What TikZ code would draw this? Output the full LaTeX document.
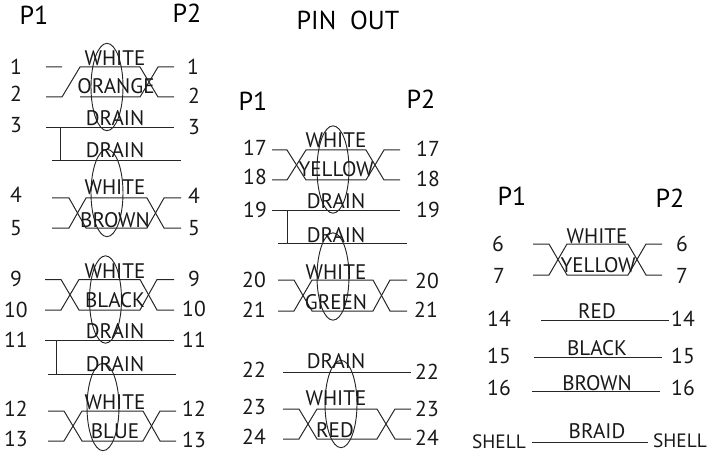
\documentclass[tikz,border=0pt]{standalone}
\usepackage{fontspec}
\usetikzlibrary{shapes.geometric}
\setmainfont{PT Sans}
\tikzset{
  wire/.style={draw=black!85,line width=0.75pt,line join=miter},
  twist/.style={draw=black!85,line width=0.7pt,shape=ellipse,minimum width=24pt,minimum height=65.5pt,inner sep=0pt},
  lbl/.style={inner sep=0pt,anchor=base,text=black!90,font=\fontsize{15.8}{16}\selectfont},
  num/.style={lbl,font=\fontsize{16.2}{17}\selectfont},
  shl/.style={lbl,font=\fontsize{14.5}{15}\selectfont},
  hdr/.style={inner sep=0pt,anchor=base,text=black,font=\fontsize{19.5}{20}\selectfont},
}
% id, x1..x6, ytop, ybottom
\newcommand{\xpair}[9]{%
  \coordinate (#1a1) at (#2,#8); \coordinate (#1a2) at (#3,#8);
  \coordinate (#1a3) at (#4,#9); \coordinate (#1a4) at (#5,#9);
  \coordinate (#1a5) at (#6,#8); \coordinate (#1a6) at (#7,#8);
  \coordinate (#1b1) at (#2,#9); \coordinate (#1b2) at (#3,#9);
  \coordinate (#1b3) at (#4,#8); \coordinate (#1b4) at (#5,#8);
  \coordinate (#1b5) at (#6,#9); \coordinate (#1b6) at (#7,#9);
  \draw[wire] (#1b1)--(#1b2)--(#1b3)--(#1b4)--(#1b5)--(#1b6);
}
\newcommand{\xfull}[2]{\draw[wire] (#1a1)--(#1a2)--(#1a3)--(#1a4)--(#1a5)--(#1a6);}
% id, x1, x2, y
\newcommand{\straight}[4]{%
  \coordinate (#1l) at (#2,#4); \coordinate (#1r) at (#3,#4);
  \draw[wire] (#1l)--(#1r);}
\begin{document}
\begin{tikzpicture}[x=0.75pt,y=-0.75pt]
\useasboundingbox (0,0) rectangle (709,452);
% wires
\xpair{p}{46}{62}{80}{140}{158}{174}{67}{97}
\draw[wire] (pa1)--(pa2) (pa3)--(pa4)--(pa5)--(pa6);
\straight{d}{46}{174}{128}\straight{e}{52}{181}{161}
\coordinate (dv) at (60.5,128); \coordinate (ev) at (60.5,161); \draw[wire] (dv)--(ev);
\xpair{q}{52}{69}{86}{147}{164}{181}{198}{228}\xfull{q}{}
\xpair{r}{45}{61}{79}{140}{157}{174}{279.5}{310}\xfull{r}{}
\straight{f}{45}{174}{340}\straight{g}{48}{176}{374}
\coordinate (fv) at (56,340); \coordinate (gv) at (56,374); \draw[wire] (fv)--(gv);
\xpair{s}{48}{64}{82}{143}{160}{176}{411}{441}\xfull{s}{}
\xpair{t}{272}{287}{306}{366}{384}{400}{150}{180}\xfull{t}{}
\straight{h}{272}{400}{210}\straight{i}{278}{407}{243}
\coordinate (hv) at (287,210); \coordinate (iv) at (287,243); \draw[wire] (hv)--(iv);
\xpair{u}{278}{294}{312}{373}{390}{407}{280}{311}\xfull{u}{}
\straight{j}{283}{411}{372}
\xpair{v}{283}{299}{317}{377}{395}{411}{409}{439}\xfull{v}{}
\xpair{w}{533}{549}{567}{628}{646}{662}{244}{275}\xfull{w}{}
\straight{k}{541}{669}{320}\straight{l}{534}{662}{357}\straight{m}{532}{660}{391}\straight{n}{532}{648}{442}
% twists
\foreach \n/\cx/\cy in {a/107/87,b/107/193,c/105.5/299.5,e/103/407,f/333/169.5,g/333/276.5,h/341/404}
  \node[twist] (tw\n) at (\cx,\cy) {};
% wire labels
\foreach \x/\y/\t [count=\i] in {
115/66/WHITE,116/94/ORANGE,115/126/DRAIN,115/158/DRAIN,115/195/WHITE,115/227/BROWN,
115/278/WHITE,115/307/BLACK,115/338/DRAIN,115/371/DRAIN,115/409/WHITE,115/438/BLUE,
336/148/WHITE,336/177/YELLOW,336/209/DRAIN,336/242/DRAIN,336/279/WHITE,336/309/GREEN,
336/368/DRAIN,336/405/WHITE,335/437/RED,
597/243/WHITE,598/272/YELLOW,597/318/RED,597/355/BLACK,597/390/BROWN,597/438/BRAID}
  \node[lbl] (w\i) at (\x,\y) {\t};
% pin numbers
\foreach \x/\y/\t [count=\i] in {
16/75/1,16/102/2,16/133/3,16/203/4,16/235/5,16/286/9,16/317/10,16/347/11,16/416/12,16/446/13,
193/75/1,194/104/2,194/135/3,194/204/4,194/235/5,194/286/9,194/316/10,194/347/11,194/416/12,194/447/13,
255/156/17,255/185/18,255/217/19,254/287/20,254/317/21,254/377/22,254/414/23,254/444/24,
428/157/17,428/187/18,428/217/19,427/288/20,426/317/21,427/379/22,427/416/23,427/445/24,
498/251/6,499/283/7,499/326/14,499/363/15,499/395/16,
682/251/6,682/283/7,683/326/14,683/363/15,683/395/16}
  \node[num] (n\i) at (\x,\y) {\t};
\node[shl] (shellL) at (499,448) {SHELL};
\node[shl] (shellR) at (680,447) {SHELL};
% headers
\foreach \x/\y/\t [count=\i] in {
34/25/P1,187/23/P2,253/111/P1,421/109/P2,512/205/P1,670/207/P2,348/30/PIN\ \ OUT}
  \node[hdr] (h\i) at (\x,\y) {\t};
\end{tikzpicture}
\end{document}
